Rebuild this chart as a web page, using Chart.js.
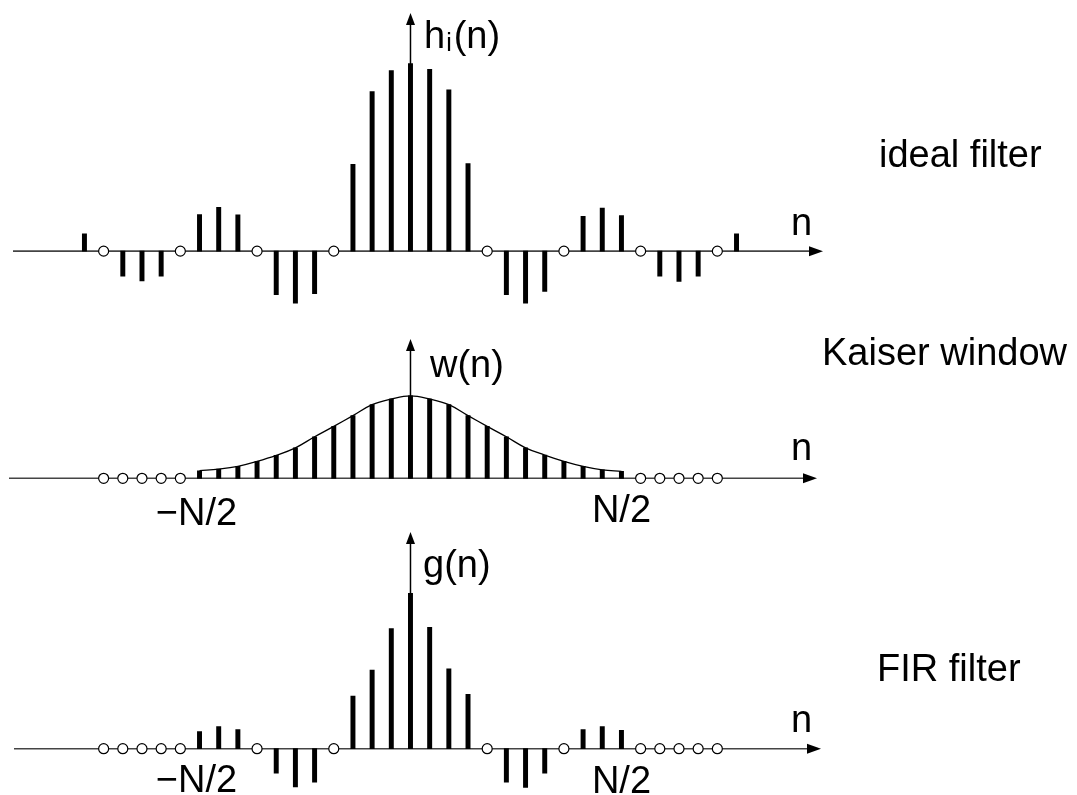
<!DOCTYPE html>
<html>
<head>
<meta charset="utf-8">
<script src="https://cdn.jsdelivr.net/npm/chart.js@4"></script>
<style>
html, body { margin: 0; padding: 0; background: #fff; }
#wrap { position: relative; width: 1077px; height: 795px; overflow: hidden; }
#wrap canvas { position: absolute; left: 0; }
</style>
</head>
<body>
<div id="wrap">
  <canvas id="idealChart" width="1077" height="330" style="top:0px"></canvas>
  <canvas id="kaiserChart" width="1077" height="225" style="top:325px"></canvas>
  <canvas id="firChart" width="1077" height="275" style="top:520px"></canvas>
</div>
<script>
// sample index n
const idealN = [-17, -16, -15, -14, -13, -12, -11, -10, -9, -8, -7, -6, -5, -4, -3, -2, -1, 0,
                1, 2, 3, 4, 5, 6, 7, 8, 9, 10, 11, 12, 13, 14, 15, 16, 17];
// ideal filter h_i(n) (peak = 1)
const idealH = [0.092, 0, -0.133, -0.159, -0.133, 0, 0.195, 0.234, 0.193, 0, -0.232, -0.277, -0.227, 0,
                0.463, 0.85, 0.962, 1.0, 0.969, 0.86, 0.467, 0, -0.232, -0.277, -0.215, 0,
                0.185, 0.229, 0.19, 0, -0.133, -0.161, -0.133, 0, 0.092];

const winN = [-16, -15, -14, -13, -12, -11, -10, -9, -8, -7, -6, -5, -4, -3, -2, -1, 0,
              1, 2, 3, 4, 5, 6, 7, 8, 9, 10, 11, 12, 13, 14, 15, 16];
// Kaiser window w(n)
const kaiserW = [0, 0, 0, 0, 0, 0.092, 0.111, 0.145, 0.206, 0.279, 0.37, 0.504, 0.63, 0.76, 0.893, 0.962, 1.0,
                 0.962, 0.893, 0.76, 0.63, 0.504, 0.37, 0.282, 0.206, 0.145, 0.103, 0.084, 0, 0, 0, 0, 0];
// FIR filter g(n) = h_i(n) w(n)
const firG = [0, 0, 0, 0, 0, 0.11, 0.143, 0.123, 0, -0.158, -0.246, -0.215, 0, 0.338, 0.506, 0.773, 1.0,
              0.781, 0.514, 0.35, 0, -0.215, -0.25, -0.158, 0, 0.123, 0.143, 0.119, 0, 0, 0, 0, 0];

const halfN = 11; // N/2
const sideLabels = ['ideal filter', 'Kaiser window', 'FIR filter'];

const FONT = '"Liberation Sans", Arial, sans-serif';

function pts(ns, vs) { return ns.map((n, i) => ({ x: n, y: vs[i] })); }

function yRange(zeroPx, unitPx, heightPx) {
    return { min: -(heightPx - zeroPx) / unitPx, max: zeroPx / unitPx };
}

const stemAxes = {
    id: 'stemAxes',
    beforeDatasetsDraw(chart, args, o) {
        const ctx = chart.ctx;
        const x = chart.scales.x, y = chart.scales.y;
        const y0 = y.getPixelForValue(0);
        const x0 = x.getPixelForValue(0);
        ctx.save();
        // n axis
        ctx.strokeStyle = '#444';
        ctx.lineWidth = 1.6;
        ctx.beginPath();
        ctx.moveTo(o.axisFrom, y0);
        ctx.lineTo(o.axisTo - 10, y0);
        ctx.stroke();
        ctx.fillStyle = '#000';
        ctx.beginPath();
        ctx.moveTo(o.axisTo, y0);
        ctx.lineTo(o.axisTo - 14, y0 - 5);
        ctx.lineTo(o.axisTo - 14, y0 + 5);
        ctx.closePath();
        ctx.fill();
        // vertical arrow
        ctx.strokeStyle = '#000';
        ctx.lineWidth = 1.5;
        ctx.beginPath();
        ctx.moveTo(x0, y0);
        ctx.lineTo(x0, o.arrowTop + 8);
        ctx.stroke();
        ctx.beginPath();
        ctx.moveTo(x0, o.arrowTop);
        ctx.lineTo(x0 - 4.5, o.arrowTop + 12);
        ctx.lineTo(x0 + 4.5, o.arrowTop + 12);
        ctx.closePath();
        ctx.fill();
        ctx.restore();
    },
    afterDatasetsDraw(chart, args, o) {
        const ctx = chart.ctx;
        const x = chart.scales.x;
        ctx.save();
        ctx.fillStyle = '#000';
        ctx.textBaseline = 'alphabetic';
        ctx.font = '38px ' + FONT;
        ctx.textAlign = 'left';
        // function label, with optional subscript
        let tx = o.fn.x;
        ctx.fillText(o.fn.text, tx, o.fn.y);
        tx += ctx.measureText(o.fn.text).width;
        if (o.fn.sub) {
            ctx.font = '25px ' + FONT;
            ctx.fillText(o.fn.sub, tx + 1, o.fn.y + 3);
            tx += ctx.measureText(o.fn.sub).width + 3;
            ctx.font = '38px ' + FONT;
            ctx.fillText(o.fn.rest, tx, o.fn.y);
        }
        ctx.fillText('n', o.nLabel.x, o.nLabel.y);
        ctx.fillText(o.side.text, o.side.x, o.side.y);
        if (o.halfLabels) {
            ctx.textAlign = 'center';
            ctx.fillText('\u2212N/2', x.getPixelForValue(-halfN) - 3, o.halfLabels.yl);
            ctx.fillText('N/2', x.getPixelForValue(halfN), o.halfLabels.yr);
        }
        ctx.restore();
    }
};

function stemChart(id, ns, vs, yr, extra, opts) {
    const data = pts(ns, vs);
    const datasets = [
        {
            type: 'bar',
            data: data.filter(p => p.y !== 0),
            backgroundColor: '#000',
            borderWidth: 0,
            barThickness: 4.3,
            order: 2
        },
        {
            type: 'scatter',
            data: data.filter(p => p.y === 0),
            pointRadius: 5,
            pointBackgroundColor: '#fff',
            pointBorderColor: '#000',
            pointBorderWidth: 1.2,
            order: 0
        }
    ];
    if (extra) datasets.push(extra);
    return new Chart(document.getElementById(id).getContext('2d'), {
        type: 'bar',
        data: { datasets: datasets },
        options: {
            responsive: false,
            animation: false,
            events: [],
            layout: { padding: 0 },
            scales: {
                x: { type: 'linear', min: -21.08, max: 34.43, offset: false, display: false },
                y: { type: 'linear', min: yr.min, max: yr.max, display: false }
            },
            plugins: {
                legend: { display: false },
                tooltip: { enabled: false },
                stemAxes: opts
            }
        },
        plugins: [stemAxes]
    });
}

stemChart('idealChart', idealN, idealH, yRange(254.5, 195, 330), null, {
    axisFrom: 13, axisTo: 823, arrowTop: 13,
    fn: { text: 'h', sub: 'i', rest: '(n)', x: 424, y: 48 },
    nLabel: { x: 791, y: 235 },
    side: { text: sideLabels[0], x: 879, y: 167 },
});

const kaiserCurve = {
    type: 'line',
    data: pts(winN, kaiserW).filter(p => p.y > 0),
    borderColor: '#000',
    borderWidth: 1.3,
    pointRadius: 0,
    tension: 0.4,
    fill: false,
    order: 1
};

stemChart('kaiserChart', winN, kaiserW, yRange(155.7, 87.3, 225), kaiserCurve, {
    axisFrom: 9, axisTo: 817, arrowTop: 14,
    fn: { text: 'w(n)', x: 430, y: 52 },
    nLabel: { x: 791, y: 135 },
    side: { text: sideLabels[1], x: 822, y: 40 },
    halfLabels: { yl: 200, yr: 197 }
});

stemChart('firChart', winN, firG, yRange(233, 162.7, 275), null, {
    axisFrom: 14, axisTo: 821, arrowTop: 12,
    fn: { text: 'g(n)', x: 423, y: 57 },
    nLabel: { x: 791, y: 212 },
    side: { text: sideLabels[2], x: 877, y: 161 },
    halfLabels: { yl: 272, yr: 273 }
});
</script>
</body>
</html>
